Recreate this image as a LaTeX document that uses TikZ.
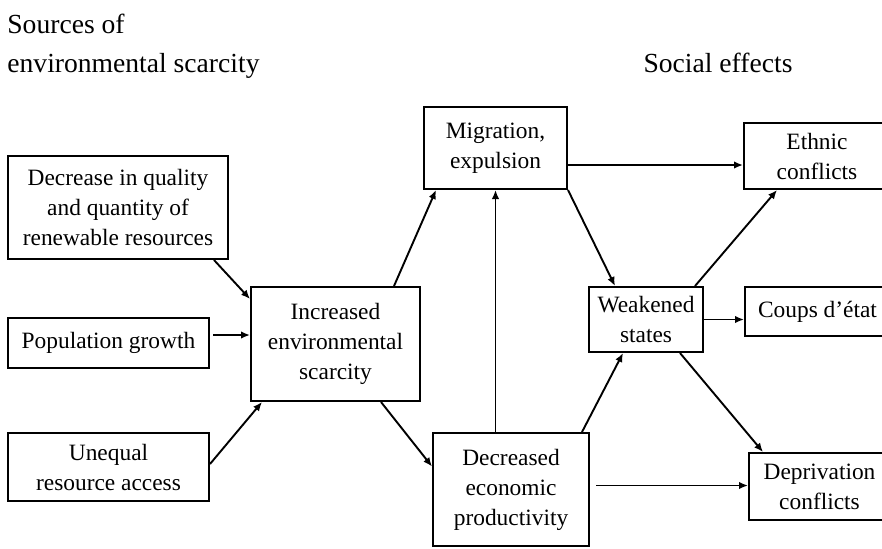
\documentclass[tikz,border=0pt]{standalone}
\usepackage{fontspec}
\setmainfont{Liberation Serif}
\usetikzlibrary{arrows.meta,calc}
\begin{document}
\begin{tikzpicture}[x=0.5pt,y=-0.5pt,
  box/.style={draw,line width=1pt,rectangle,inner sep=0pt,align=center,
    font=\fontsize{11.7}{15}\selectfont},
  head/.style={inner sep=0pt,font=\fontsize{13.8}{19.5}\selectfont},
  arr/.style={line width=0.95pt,-{Latex[length=4.5pt,width=3.8pt]}}]
\useasboundingbox (0,0) rectangle (882,548);
\clip (0,0) rectangle (882,548);

\node[head,anchor=north west,align=left] (hsrc) at (7,14) {Sources of\\environmental scarcity};
\node[head,anchor=center] (hsoc) at (718,63) {Social effects};

\node[box,minimum width=110pt,minimum height=51.5pt] (dec) at (118,207.5) {Decrease in quality\\and quantity of\\renewable resources};
\node[box,minimum width=100.5pt,minimum height=25pt] (pop) at (108.5,343) {Population growth};
\node[box,minimum width=100.5pt,minimum height=34pt] (uneq) at (108.5,467) {Unequal\\resource access};
\node[box,minimum width=84.5pt,minimum height=57pt] (inc) at (335.5,344) {Increased\\environmental\\scarcity};
\node[box,minimum width=71.5pt,minimum height=41pt] (mig) at (495.5,148) {Migration,\\expulsion};
\node[box,minimum width=78pt,minimum height=56.5pt] (decr) at (511,489.5) {Decreased\\economic\\productivity};
\node[box,minimum width=57pt,minimum height=32.5pt] (weak) at (646,319.5) {Weakened\\states};
\node[box,minimum width=73pt,minimum height=33pt] (eth) at (817,156) {Ethnic\\conflicts};
\node[box,minimum width=72.5pt,minimum height=24.5pt] (coups) at (817.5,311.5) {Coups d'état};
\node[box,minimum width=70.5pt,minimum height=33.5pt] (depr) at (819.5,486.5) {Deprivation\\conflicts};

\coordinate (migout) at ($(mig.east)+(0,17)$);
\coordinate (decrout) at ($(decr.east)+(6,-4)$);

% sources -> increased scarcity
\draw[arr] ($(dec.south east)+(-15,0)$) -- ($(inc.north west)+(0,13)$);
\draw[arr] ($(pop.east)+(3,-8)$) -- ($(inc.west)+(0,-9)$);
\draw[arr] ($(uneq.east)+(0,-3)$) -- ($(inc.south west)+(12,0)$);

% increased scarcity -> effects
\draw[arr] ($(inc.north east)+(-27,0)$) -- ($(mig.south west)+(13,0)$);
\draw[arr] ($(inc.south east)+(-40,0)$) -- ($(decr.west)+(0,-23)$);

% decreased productivity -> migration
\draw[arr] (decr.north -| mig.south) -- (mig.south);

% migration -> ethnic, weakened
\draw[arr] (migout) -- (migout -| eth.west);
\draw[arr] (mig.south east) -- ($(weak.north west)+(27,0)$);

% decreased productivity -> weakened, deprivation
\draw[arr] ($(decr.north east)+(-8,0)$) -- ($(weak.south west)+(35,0)$);
\draw[arr] (decrout) -- (decrout -| depr.west);

% weakened -> conflicts
\draw[arr] ($(weak.north east)+(-9,0)$) -- ($(eth.south west)+(34,0)$);
\draw[arr] (weak.east) -- (weak.east -| coups.west);
\draw[arr] ($(weak.south east)+(-24,0)$) -- ($(depr.north west)+(15,0)$);
\end{tikzpicture}
\end{document}
